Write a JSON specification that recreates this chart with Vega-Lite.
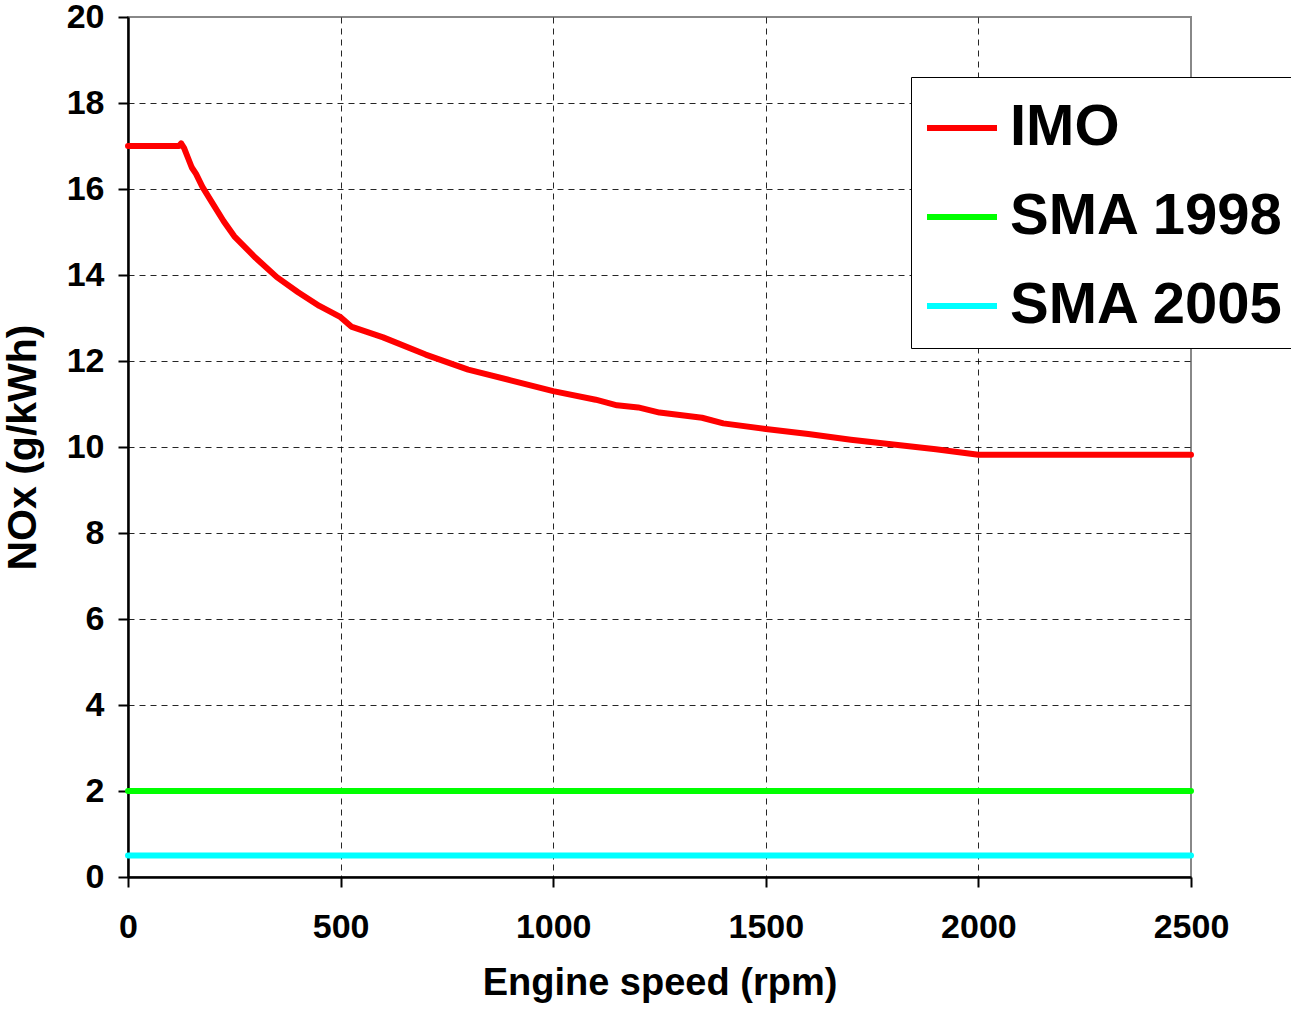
{
  "$schema": "https://vega.github.io/schema/vega-lite/v6.json",
  "width": 1063,
  "height": 860,
  "autosize": {"type": "none"},
  "padding": {"left": 128, "top": 17, "right": 100, "bottom": 134},
  "background": "white",
  "config": {
    "font": "Liberation Sans",
    "view": {"stroke": "#888888", "strokeWidth": 2},
    "axis": {
      "domainColor": "black",
      "domainWidth": 2.5,
      "tickColor": "black",
      "tickWidth": 2,
      "tickSize": 10,
      "labelFont": "Liberation Sans",
      "labelFontWeight": "bold",
      "labelFontSize": 34,
      "labelColor": "black",
      "labelFlush": false,
      "labelBound": false,
      "titleFont": "Liberation Sans",
      "titleFontWeight": "bold",
      "titleColor": "black",
      "gridColor": "black",
      "gridDash": [6, 5],
      "gridWidth": 1,
      "gridOpacity": 0.85
    }
  },
  "data": {
    "values": [
      {"rpm": 0, "nox": 17.0, "series": "IMO"},
      {"rpm": 120, "nox": 17.0, "series": "IMO"},
      {"rpm": 125, "nox": 17.06, "series": "IMO"},
      {"rpm": 132, "nox": 16.95, "series": "IMO"},
      {"rpm": 140, "nox": 16.75, "series": "IMO"},
      {"rpm": 150, "nox": 16.5, "series": "IMO"},
      {"rpm": 160, "nox": 16.35, "series": "IMO"},
      {"rpm": 175, "nox": 16.05, "series": "IMO"},
      {"rpm": 200, "nox": 15.65, "series": "IMO"},
      {"rpm": 225, "nox": 15.25, "series": "IMO"},
      {"rpm": 250, "nox": 14.9, "series": "IMO"},
      {"rpm": 300, "nox": 14.4, "series": "IMO"},
      {"rpm": 350, "nox": 13.95, "series": "IMO"},
      {"rpm": 400, "nox": 13.6, "series": "IMO"},
      {"rpm": 450, "nox": 13.28, "series": "IMO"},
      {"rpm": 500, "nox": 13.02, "series": "IMO"},
      {"rpm": 525, "nox": 12.8, "series": "IMO"},
      {"rpm": 600, "nox": 12.55, "series": "IMO"},
      {"rpm": 700, "nox": 12.15, "series": "IMO"},
      {"rpm": 800, "nox": 11.8, "series": "IMO"},
      {"rpm": 900, "nox": 11.55, "series": "IMO"},
      {"rpm": 1000, "nox": 11.3, "series": "IMO"},
      {"rpm": 1100, "nox": 11.1, "series": "IMO"},
      {"rpm": 1150, "nox": 10.97, "series": "IMO"},
      {"rpm": 1200, "nox": 10.92, "series": "IMO"},
      {"rpm": 1250, "nox": 10.8, "series": "IMO"},
      {"rpm": 1350, "nox": 10.68, "series": "IMO"},
      {"rpm": 1400, "nox": 10.55, "series": "IMO"},
      {"rpm": 1500, "nox": 10.42, "series": "IMO"},
      {"rpm": 1600, "nox": 10.3, "series": "IMO"},
      {"rpm": 1700, "nox": 10.17, "series": "IMO"},
      {"rpm": 1800, "nox": 10.06, "series": "IMO"},
      {"rpm": 1900, "nox": 9.95, "series": "IMO"},
      {"rpm": 2000, "nox": 9.82, "series": "IMO"},
      {"rpm": 2500, "nox": 9.82, "series": "IMO"},
      {"rpm": 0, "nox": 2.0, "series": "SMA 1998"},
      {"rpm": 2500, "nox": 2.0, "series": "SMA 1998"},
      {"rpm": 0, "nox": 0.5, "series": "SMA 2005"},
      {"rpm": 2500, "nox": 0.5, "series": "SMA 2005"}
    ]
  },
  "mark": {"type": "line", "strokeWidth": 6, "strokeCap": "round", "strokeJoin": "round", "clip": false},
  "encoding": {
    "x": {
      "field": "rpm",
      "type": "quantitative",
      "title": "Engine speed (rpm)",
      "scale": {"domain": [0, 2500], "nice": false},
      "axis": {
        "values": [0, 500, 1000, 1500, 2000, 2500],
        "format": "d",
        "labelPadding": 23,
        "titlePadding": 20,
        "titleFontSize": 38,
        "gridColor": {"condition": {"test": "datum.value === 2500 || datum.value === 0", "value": "transparent"}, "value": "black"}
      }
    },
    "y": {
      "field": "nox",
      "type": "quantitative",
      "title": "NOx (g/kWh)",
      "scale": {"domain": [0, 20], "nice": false},
      "axis": {
        "values": [0, 2, 4, 6, 8, 10, 12, 14, 16, 18, 20],
        "labelPadding": 14,
        "titlePadding": 22,
        "titleFontSize": 41,
        "gridColor": {"condition": {"test": "datum.value === 20 || datum.value === 0", "value": "transparent"}, "value": "black"}
      }
    },
    "color": {
      "field": "series",
      "type": "nominal",
      "title": null,
      "scale": {"domain": ["IMO", "SMA 1998", "SMA 2005"], "range": ["#FF0000", "#00FF00", "#00FFFF"]},
      "legend": {
        "orient": "none",
        "legendX": 783,
        "legendY": 60,
        "symbolType": "stroke",
        "symbolSize": 4900,
        "symbolStrokeWidth": 6,
        "labelFontSize": 58,
        "labelFontWeight": "bold",
        "labelFont": "Liberation Sans",
        "labelColor": "black",
        "labelLimit": 400,
        "labelOffset": 10,
        "rowPadding": 22,
        "strokeColor": "black",
        "fillColor": "white",
        "padding": 13,
        "symbolOffset": 0
      }
    }
  }
}
